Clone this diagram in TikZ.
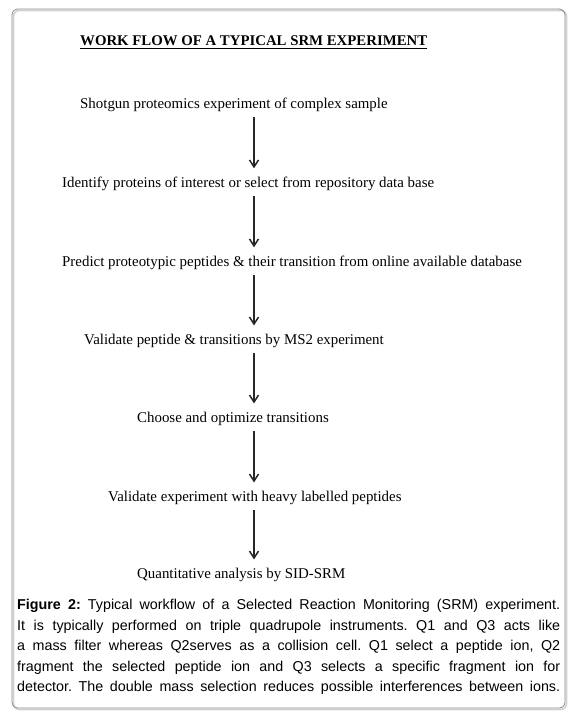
\documentclass[tikz,border=0pt]{standalone}
\usepackage{fontspec}
\setmainfont{Liberation Serif}
\newfontfamily\capfont{Liberation Sans}
\usetikzlibrary{arrows.meta,positioning}
\frenchspacing

\begin{document}
\begin{tikzpicture}[
    x=1pt, y=-1pt,
    stepnode/.style={
      anchor=base west, inner sep=0pt,
      font=\fontsize{14.9}{17}\selectfont
    },
    titlenode/.style={
      anchor=base west, inner sep=0pt,
      font=\fontsize{14.8}{17}\selectfont\bfseries
    },
    flow/.style={-{Straight Barb[length=7pt,width=9pt,line width=1.5pt]},line width=1.5pt,draw=black!85},
    frame/.style={draw=black!45, line width=0.8pt, rounded corners=6pt},
    caption/.style={
      anchor=north west, inner sep=0pt, align=left,
      font=\capfont\fontsize{14.3}{20.6}\selectfont
    }
  ]
    \useasboundingbox (0,0) rectangle (571,717);
    \draw[black!18, line width=1.6pt, rounded corners=6pt] (13.5,10.5) rectangle (566.5,709.5);
    \draw[frame] (12,9) rectangle (565,708);

    \node[titlenode] (title) at (80,46) {WORK FLOW OF A TYPICAL SRM EXPERIMENT};
    \draw[line width=1.2pt] ([yshift=-2.5pt]title.base west) -- ([yshift=-2.5pt]title.base east);

    \node[stepnode] (s1) at (80,108) {Shotgun proteomics experiment of complex sample};
    \node[stepnode] (s2) at (62,187) {Identify proteins of interest or select from repository data base};
    \node[stepnode] (s3) at (62,266) {Predict proteotypic peptides \& their transition from online available database};
    \node[stepnode] (s4) at (84,344) {Validate peptide \& transitions by MS2 experiment};
    \node[stepnode] (s5) at (137,422) {Choose and optimize transitions};
    \node[stepnode] (s6) at (108,501) {Validate experiment with heavy labelled peptides};
    \node[stepnode] (s7) at (137,578) {Quantitative analysis by SID-SRM};

    \coordinate (ax) at (254,0);
    \foreach \a/\b in {s1/s2,s2/s3,s3/s4,s4/s5,s5/s6,s6/s7}
      \draw[flow,shorten <=6pt,shorten >=8pt] (\a.south -| ax) -- (\b.north -| ax);

    \node[caption] (cap) at (17,599) {%
      \makebox[543pt][s]{\textbf{Figure 2:} Typical workflow of a Selected Reaction Monitoring (SRM) experiment.}\\
      \makebox[543pt][s]{It is typically performed on triple quadrupole instruments. Q1 and Q3 acts like}\\
      \makebox[543pt][s]{a mass filter whereas Q2serves as a collision cell. Q1 select a peptide ion, Q2}\\
      \makebox[543pt][s]{fragment the selected peptide ion and Q3 selects a specific fragment ion for}\\
      \makebox[543pt][s]{detector. The double mass selection reduces possible interferences between ions.}};
  \end{tikzpicture}
\end{document}
